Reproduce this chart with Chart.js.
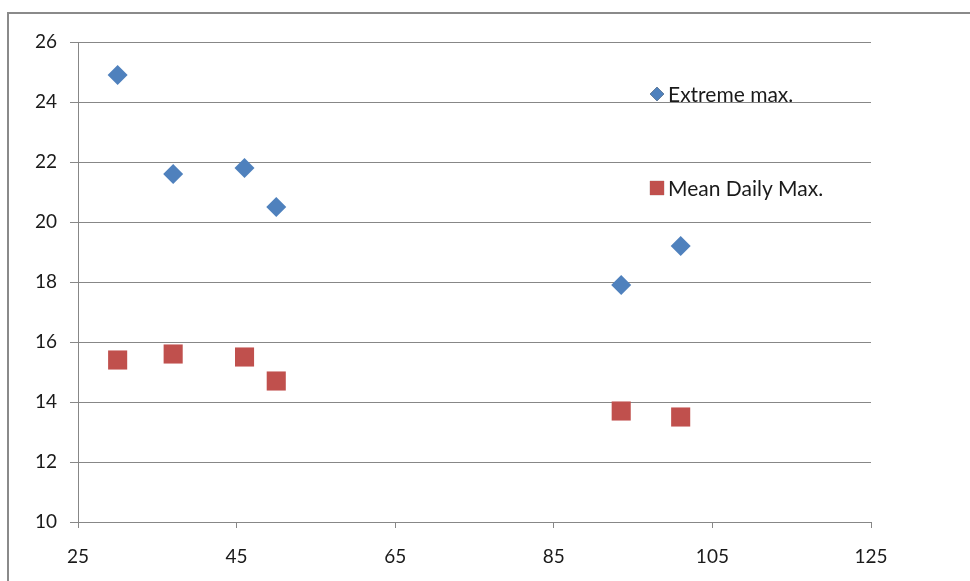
<!DOCTYPE html>
<html>
<head>
<meta charset="utf-8">
<title>Extreme and mean daily maximum</title>
<script src="https://cdn.jsdelivr.net/npm/chart.js@4/dist/chart.umd.min.js"></script>
<style>
  html, body { margin: 0; padding: 0; background: #ffffff; }
  canvas { display: block; }
</style>
</head>
<body>
<canvas id="chart" width="970" height="581"></canvas>
<script>
// Station positions along the x axis and the two temperature series
const xValues = [30, 37, 46, 50, 93.5, 101];
const extremeMax = [24.9, 21.6, 21.8, 20.5, 17.9, 19.2];
const meanDailyMax = [15.4, 15.6, 15.5, 14.7, 13.7, 13.5];
const seriesNames = ['Extreme max.', 'Mean Daily Max.'];
const xTicks = [25, 45, 65, 85, 105, 125];
const yTicks = [10, 12, 14, 16, 18, 20, 22, 24, 26];

const toPoints = (ys) => ys.map((y, i) => ({ x: xValues[i], y }));

const FONT = 'Lato, "Open Sans", "DejaVu Sans", sans-serif';
const GRID = '#878787';

// Outer frame of the chart (top and left edges show on the page)
const framePlugin = {
  id: 'frame',
  beforeDraw(chart) {
    const ctx = chart.ctx;
    ctx.save();
    ctx.strokeStyle = '#8a8a8a';
    ctx.lineWidth = 2;
    ctx.beginPath();
    ctx.moveTo(8, chart.height + 5);
    ctx.lineTo(8, 13);
    ctx.lineTo(chart.width + 5, 13);
    ctx.stroke();
    ctx.restore();
  }
};

// Legend drawn inside the plot area, one entry per dataset
const insideLegend = {
  id: 'insideLegend',
  afterDraw(chart, args, opts) {
    const ctx = chart.ctx;
    ctx.save();
    chart.data.datasets.forEach((ds, i) => {
      const e = opts.entries[i];
      Chart.helpers.drawPoint(ctx, {
        pointStyle: ds.pointStyle,
        radius: e.radius,
        rotation: 0,
        borderWidth: 0
      }, opts.markerX, e.y);
      ctx.fillStyle = ds.backgroundColor;
      ctx.fill();
      ctx.fillStyle = '#1a1a1a';
      ctx.font = opts.font;
      ctx.textBaseline = 'middle';
      ctx.textAlign = 'left';
      ctx.fillText(ds.label, opts.textX, e.y + 1);
    });
    ctx.restore();
  }
};

new Chart(document.getElementById('chart'), {
  type: 'scatter',
  data: {
    datasets: [
      {
        label: seriesNames[0],
        data: toPoints(extremeMax),
        pointStyle: 'rectRot',
        pointRadius: 10,
        pointHoverRadius: 10,
        backgroundColor: '#4F81BD',
        borderColor: '#4F81BD',
        borderWidth: 0
      },
      {
        label: seriesNames[1],
        data: toPoints(meanDailyMax),
        pointStyle: 'rect',
        pointRadius: 13.5,
        pointHoverRadius: 13.5,
        backgroundColor: '#C0504D',
        borderColor: '#C0504D',
        borderWidth: 0
      }
    ]
  },
  options: {
    responsive: false,
    animation: false,
    devicePixelRatio: 1,
    layout: { padding: { left: 0, top: 42, right: 99, bottom: 0 } },
    plugins: {
      legend: { display: false },
      tooltip: { enabled: false },
      insideLegend: {
        markerX: 657,
        textX: 668,
        font: '21px ' + FONT,
        entries: [
          { y: 94, radius: 7 },
          { y: 188, radius: 10 }
        ]
      }
    },
    scales: {
      x: {
        type: 'linear',
        min: xTicks[0],
        max: xTicks[xTicks.length - 1],
        afterBuildTicks(scale) { scale.ticks = xTicks.map(v => ({ value: v })); },
        afterFit(scale) { scale.height = 59; },
        ticks: {
          color: '#1a1a1a',
          font: { family: FONT, size: 19 },
          padding: 17,
          maxRotation: 0
        },
        grid: {
          color: GRID,
          drawOnChartArea: false,
          drawTicks: true,
          tickLength: 6,
          tickColor: GRID
        },
        border: { display: true, color: GRID, width: 1 }
      },
      y: {
        type: 'linear',
        min: yTicks[0],
        max: yTicks[yTicks.length - 1],
        afterBuildTicks(scale) { scale.ticks = yTicks.map(v => ({ value: v })); },
        afterFit(scale) { scale.width = 78; },
        ticks: {
          color: '#1a1a1a',
          font: { family: FONT, size: 19 },
          padding: 13
        },
        grid: {
          color: GRID,
          drawTicks: true,
          tickLength: 8,
          tickColor: GRID
        },
        border: { display: true, color: GRID, width: 1 }
      }
    }
  },
  plugins: [framePlugin, insideLegend]
});
</script>
</body>
</html>
